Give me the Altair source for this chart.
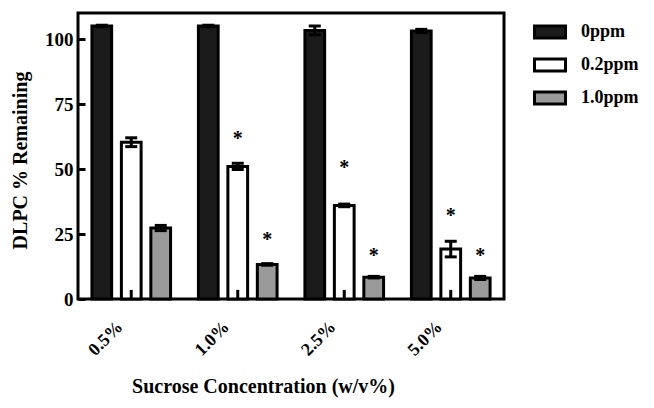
import altair as alt
import pandas as pd

groups = ["0.5%", "1.0%", "2.5%", "5.0%"]
series = ["0ppm", "0.2ppm", "1.0ppm"]
colors = ["#1b1b1b", "#ffffff", "#9a9a9a"]

vals_0ppm = [105.0, 105.0, 103.3, 103.1]
vals_02ppm = [60.3, 51.0, 36.0, 19.2]
vals_10ppm = [27.3, 13.3, 8.4, 8.1]
err_0ppm = [0.3, 0.3, 1.7, 0.6]
err_02ppm = [1.7, 1.2, 0.5, 3.0]
err_10ppm = [1.0, 0.3, 0.3, 0.6]

stub_height = [3.5, 3.5, 3.5, 3.5]

star_groups = ["1.0%", "1.0%", "2.5%", "2.5%", "5.0%", "5.0%"]
star_series = ["0.2ppm", "1.0ppm", "0.2ppm", "1.0ppm", "0.2ppm", "1.0ppm"]
star_y = [63.0, 24.3, 52.1, 18.1, 33.4, 18.1]

rows = []
for i, g in enumerate(groups):
    for s, v, e in zip(series, [vals_0ppm, vals_02ppm, vals_10ppm], [err_0ppm, err_02ppm, err_10ppm]):
        rows.append({"group": g, "series": s, "value": v[i], "err": e[i]})
df = pd.DataFrame(rows)

stub_df = pd.DataFrame({"group": groups, "series": ["0.2ppm"] * 4, "h": stub_height})
star_df = pd.DataFrame({"group": star_groups, "series": star_series, "y": star_y})

FONT = "Liberation Serif"

x_enc = alt.X(
    "group:N", sort=groups,
    scale=alt.Scale(paddingInner=0.17, paddingOuter=0.085),
    axis=alt.Axis(
        title="Sucrose Concentration (w/v%)", labelAngle=-45, labelAlign="right",
        labelBaseline="middle", labelPadding=25, labelOffset=-11, ticks=False, domain=False,
        labelFont=FONT, labelFontWeight="bold", labelFontSize=18, labelColor="black",
        titleFont=FONT, titleFontWeight="bold", titleFontSize=20, titleColor="black",
        titleX=185, titleY=93.5, titleAlign="center", titleBaseline="alphabetic",
    ),
)
xo_enc = alt.XOffset("series:N", sort=series, scale=alt.Scale(paddingInner=0.33, paddingOuter=0.165))

y_scale = alt.Scale(domain=[0, 110], nice=False)
y_axis = alt.Axis(
    title="DLPC % Remaining", values=[0, 25, 50, 75, 100], grid=False, domain=False,
    offset=-7, tickSize=7, tickWidth=3, tickColor="black", labelPadding=5,
    labelFont=FONT, labelFontWeight="bold", labelFontSize=19, labelColor="black",
    titleFont=FONT, titleFontWeight="bold", titleFontSize=20, titleColor="black",
    titleX=-59, titleY=147, titleAngle=270, titleAlign="center", titleBaseline="alphabetic",
)

bars = alt.Chart(df).mark_bar(stroke="black", strokeWidth=3).encode(
    x=x_enc, xOffset=xo_enc,
    y=alt.Y("value:Q", scale=y_scale, axis=y_axis),
    fill=alt.Fill(
        "series:N", sort=series,
        scale=alt.Scale(domain=series, range=colors),
        legend=alt.Legend(
            title=None, orient="none", legendX=455, legendY=2, padding=0,
            symbolType="M-1,-0.38L1,-0.38L1,0.38L-1,0.38Z", symbolSize=961,
            symbolStrokeColor="black", symbolStrokeWidth=3, symbolOpacity=1,
            labelFont=FONT, labelFontWeight="bold", labelFontSize=18, labelColor="black",
            labelOffset=14, rowPadding=4,
        ),
    ),
)

err_base = alt.Chart(df).transform_calculate(
    lo="datum.value - datum.err", hi="datum.value + datum.err"
)
err_rule = err_base.mark_rule(color="black", strokeWidth=3).encode(
    x=x_enc, xOffset=xo_enc,
    y=alt.Y("lo:Q", scale=y_scale, axis=y_axis), y2="hi:Q",
)
cap_hi = err_base.mark_tick(color="black", thickness=3, size=12, opacity=1).encode(
    x=x_enc, xOffset=xo_enc, y=alt.Y("hi:Q", scale=y_scale, axis=y_axis),
)
cap_lo = err_base.mark_tick(color="black", thickness=3, size=12, opacity=1).encode(
    x=x_enc, xOffset=xo_enc, y=alt.Y("lo:Q", scale=y_scale, axis=y_axis),
)

stubs = alt.Chart(stub_df).mark_rule(color="black", strokeWidth=3).encode(
    x=x_enc, xOffset=xo_enc,
    y=alt.Y("h:Q", scale=y_scale, axis=y_axis), y2=alt.datum(0),
)

stars = alt.Chart(star_df).mark_text(
    text="*", font=FONT, fontWeight="bold", fontSize=20, color="black", baseline="middle", dy=4
).encode(
    x=x_enc, xOffset=xo_enc,
    y=alt.Y("y:Q", scale=y_scale, axis=y_axis),
)

chart = alt.layer(bars, err_rule, cap_hi, cap_lo, stubs, stars).properties(
    width=426, height=286,
    autosize=alt.AutoSizeParams(type="none"),
    padding={"left": 70, "top": 5, "right": 142, "bottom": 100},
).configure_view(stroke="black", strokeWidth=3)

chart.save("out.html", embed_options={"renderer": "svg", "actions": False})
